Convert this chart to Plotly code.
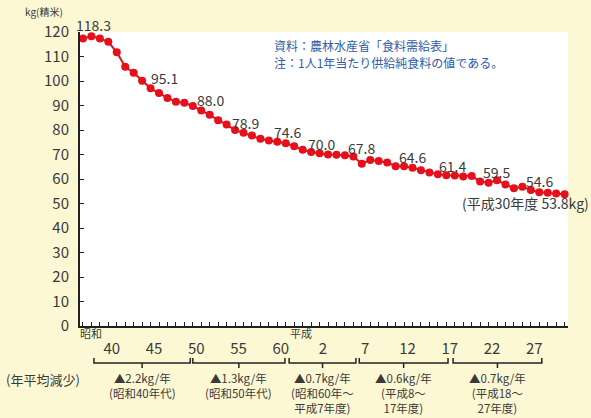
import plotly.graph_objects as go

# ---- data ----
years = list(range(1961, 2019))
values = [117.3, 118.3, 117.3, 116.0, 111.7, 105.8, 103.4, 100.1, 97.0, 95.1,
          93.1, 91.5, 91.1, 89.8, 88.0, 86.2, 84.0, 82.2, 80.0, 78.9,
          77.8, 76.4, 75.7, 75.2, 74.6, 73.4, 71.9, 71.0, 70.5, 70.0,
          69.9, 69.7, 69.2, 66.2, 67.8, 67.3, 66.7, 65.2, 65.2, 64.6,
          63.6, 62.7, 61.9, 61.5, 61.4, 61.0, 61.2, 59.0, 58.5, 59.5,
          57.8, 56.2, 56.8, 55.5, 54.6, 54.4, 54.1, 53.8]
label_years = [1962, 1970, 1975, 1980, 1985, 1990, 1995, 2000, 2005, 2010, 2015]
tick_years = [1965, 1970, 1975, 1980, 1985, 1990, 1995, 2000, 2005, 2010, 2015]
tick_text = ["40", "45", "50", "55", "60", "2", "7", "12", "17", "22", "27"]
period_spans = [(1962.3, 1973.7), (1974.0, 1984.9), (1985.4, 1993.3),
                (1993.7, 2004.2), (2004.8, 2015.3)]
period_rate = ["▲2.2kg/年", "▲1.3kg/年", "▲0.7kg/年", "▲0.6kg/年", "▲0.7kg/年"]
period_note = [["(昭和40年代)"], ["(昭和50年代)"], ["(昭和60年～", "平成7年度)"],
               ["(平成8～", "17年度)"], ["(平成18～", "27年度)"]]
source_lines = ["資料：農林水産省「食料需給表」", "注：1人1年当たり供給純食料の値である。"]

# label offsets (px)
lab_dx = [2, 5, 9, 2, 2, -7, -9, 0, -2, -1, 0]
lab_dy = [11, 15, 10, 10, 11, 11, 12, 11, 10, 8, 11]

RED = "#e5101c"
TXT = "#3a3a3a"
BLUE = "#2f5ca8"
FONT = "Noto Sans CJK JP"

fig = go.Figure()
fig.add_trace(go.Scatter(
    x=years, y=values, mode="lines+markers",
    line=dict(color=RED, width=2),
    marker=dict(color=RED, size=8),
    cliponaxis=False, showlegend=False, hoverinfo="skip"))

ann = []
val_of = dict(zip(years, values))
for i, yr in enumerate(label_years):
    ann.append(dict(x=yr, y=val_of[yr], xref="x", yref="y", text=f"{val_of[yr]:.1f}",
                    showarrow=False, xshift=lab_dx[i], yshift=lab_dy[i],
                    font=dict(size=14, color=TXT), yanchor="middle"))

# final note
ann.append(dict(x=years[-1], y=values[-1], xref="x", yref="y",
                text=f"(平成30年度 {values[-1]:.1f}kg)", showarrow=False,
                xanchor="right", xshift=26, yshift=-9, yanchor="middle",
                font=dict(size=14, color=TXT)))


def py(px):
    return (326 - px) / 294.0


# source text
for j, line in enumerate(source_lines):
    ann.append(dict(x=0.395, y=py(45 + 17 * j), xref="paper", yref="paper", xanchor="left",
                    yanchor="middle", showarrow=False, text=line, borderpad=0,
                    font=dict(size=12, color=BLUE)))

# axis title
ann.append(dict(x=-0.117, y=py(12), xref="paper", yref="paper", xanchor="left",
                yanchor="middle", showarrow=False, text="kg(精米)",
                font=dict(size=10, color=TXT)))

# era labels
ann.append(dict(x=years[0], y=py(333), xref="x", yref="paper", xanchor="left",
                yanchor="middle", xshift=-5, showarrow=False, text="昭和",
                font=dict(size=11, color=TXT)))
ann.append(dict(x=1989, y=py(333), xref="x", yref="paper", xanchor="center",
                yanchor="middle", xshift=-19, showarrow=False, text="平成",
                font=dict(size=11, color=TXT)))

ann.append(dict(x=-0.076, y=py(379), xref="paper", yref="paper", xanchor="center",
                yanchor="middle", showarrow=False, text="(年平均減少)",
                font=dict(size=13, color=TXT)))

shapes = []
for i, (a, b) in enumerate(period_spans):
    m = (a + b) / 2
    shapes.append(dict(type="path", xref="x", yref="paper",
                       path=f"M {a},{py(358)} L {a},{py(363)} L {b},{py(363)} L {b},{py(358)}",
                       line=dict(color="#222", width=1.5)))
    shapes.append(dict(type="line", xref="x", yref="paper", x0=m, x1=m,
                       y0=py(363), y1=py(368), line=dict(color="#222", width=1.5)))
    ann.append(dict(x=m, y=py(369), xref="x", yref="paper", showarrow=False,
                    text="<br>".join([period_rate[i]] + period_note[i]),
                    font=dict(size=11.5, color=TXT), yanchor="top", align="center",
                    borderpad=0))

fig.update_layout(
    width=591, height=418,
    margin=dict(l=80, r=23, t=32, b=92),
    paper_bgcolor="#fdf8d4", plot_bgcolor="white",
    font=dict(family=FONT, color=TXT),
    annotations=ann, shapes=shapes,
    xaxis=dict(range=[1960.65, 2018.4], tickvals=tick_years, ticktext=tick_text,
               ticks="inside", ticklen=4, tickwidth=1, tickcolor="#222",
               minor=dict(dtick=1, tick0=1961, ticks="inside", ticklen=4, tickcolor="#222", tickwidth=1),
               showline=True, linecolor="#222", linewidth=2, showgrid=False, zeroline=False,
               tickfont=dict(size=15, color=TXT), ticklabelstandoff=8, ticklabelshift=-5),
    yaxis=dict(range=[0, 120], dtick=10, ticks="inside", ticklen=4, tickcolor="#222",
               showline=True, linecolor="#222", linewidth=2, showgrid=False, zeroline=False,
               tickfont=dict(size=15, color=TXT), ticklabelstandoff=6),
)

fig.write_html("out.html")
